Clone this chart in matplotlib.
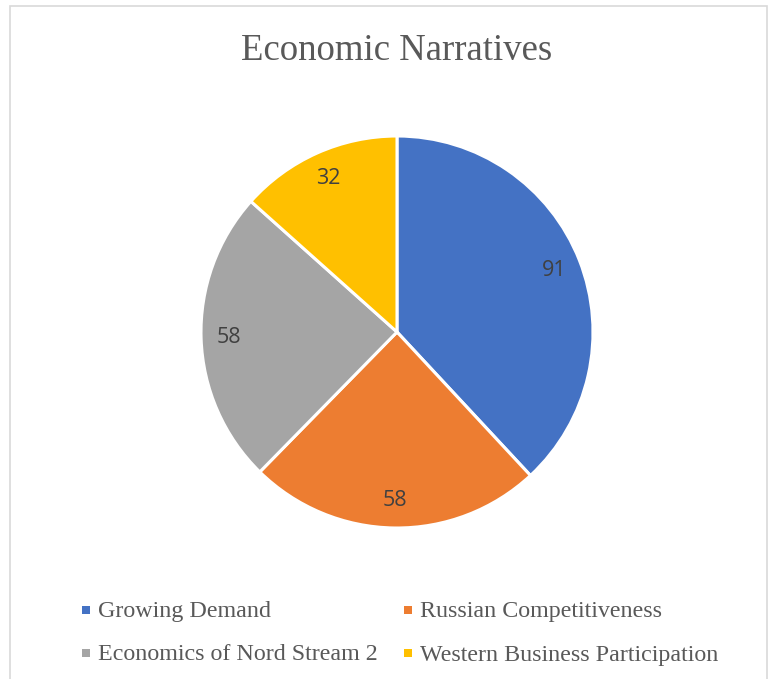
import matplotlib.pyplot as plt
from matplotlib.patches import Rectangle

categories = ["Growing Demand", "Russian Competitiveness",
              "Economics of Nord Stream 2", "Western Business Participation"]
values = [91, 58, 58, 32]
colors = ["#4472C4", "#ED7D31", "#A5A5A5", "#FFC000"]

W, H = 774, 679
fig = plt.figure(figsize=(W / 100, H / 100), dpi=100)

# light border of the chart area
fig.patches.append(Rectangle((10 / W, -0.05), 757 / W, 1.05 - 6 / H,
                             transform=fig.transFigure, fill=False,
                             edgecolor="#D9D9D9", linewidth=1.2))

cx, cy, r = 397, 332, 196
ax = fig.add_axes([(cx - r) / W, 1 - (cy + r) / H, 2 * r / W, 2 * r / H])

wedges, texts, autotexts = ax.pie(
    values, colors=colors, startangle=90, counterclock=False,
    autopct=lambda p: "{:.0f}".format(p * sum(values) / 100),
    pctdistance=0.86, radius=1,
    wedgeprops=dict(edgecolor="white", linewidth=2.2),
    textprops=dict(fontsize=15.5, color="#404040", family=["Open Sans", "DejaVu Sans"]))
ax.set_xlim(-1, 1)
ax.set_ylim(-1, 1)
ax.set_aspect("equal")

fig.text(cx / W, 1 - 51 / H, "Economic Narratives", ha="center", va="center",
         fontsize=26.5, color="#595959", family="Liberation Serif")

# legend
pos = [(86, 612), (408, 612), (86, 655), (408, 655)]
for (x, y), lab, c in zip(pos, categories, colors):
    fig.patches.append(Rectangle(((x - 4) / W, 1 - (y + 2) / H), 8 / W, 8 / H,
                                 transform=fig.transFigure, facecolor=c,
                                 edgecolor="none"))
    fig.text((x + 12) / W, 1 - y / H, lab, ha="left", va="center",
             fontsize=17.3, color="#595959", family="Liberation Serif")

fig.savefig("out.png", dpi=100)
